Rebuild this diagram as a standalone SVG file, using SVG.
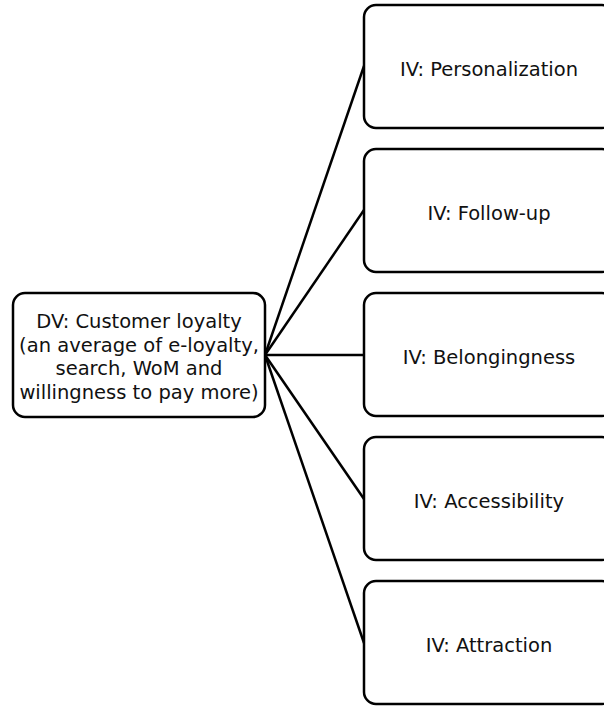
<svg xmlns="http://www.w3.org/2000/svg" width="604" height="706" viewBox="0 0 604 706">
<style>
.box{fill:#fff;stroke:#000;stroke-width:2.5}
.t{font-family:"DejaVu Sans",Lato,sans-serif;font-size:19.5px;fill:#111;text-anchor:middle}
.c{stroke:#000;stroke-width:2.5;fill:none}
</style>
<rect width="604" height="706" fill="#fff"/>
<g id="connectors">
<line class="c" x1="265" y1="355" x2="364" y2="66"/>
<line class="c" x1="265" y1="355" x2="364" y2="210"/>
<line class="c" x1="265" y1="355" x2="364" y2="355"/>
<line class="c" x1="265" y1="355" x2="364" y2="499"/>
<line class="c" x1="265" y1="355" x2="364" y2="643"/>
</g>
<g id="dv">
<rect class="box" x="13" y="293" width="252" height="124" rx="12"/>
<text class="t" x="139" y="328">DV: Customer loyalty</text>
<text class="t" x="139" y="351.5">(an average of e-loyalty,</text>
<text class="t" x="139" y="375">search, WoM and</text>
<text class="t" x="139" y="398.5">willingness to pay more)</text>
</g>
<g id="iv1">
<rect class="box" x="364" y="5" width="250" height="123" rx="12"/>
<text class="t" x="489" y="76">IV: Personalization</text>
</g>
<g id="iv2">
<rect class="box" x="364" y="149" width="250" height="123" rx="12"/>
<text class="t" x="489" y="220">IV: Follow-up</text>
</g>
<g id="iv3">
<rect class="box" x="364" y="293" width="250" height="123" rx="12"/>
<text class="t" x="489" y="364">IV: Belongingness</text>
</g>
<g id="iv4">
<rect class="box" x="364" y="437" width="250" height="123" rx="12"/>
<text class="t" x="489" y="508">IV: Accessibility</text>
</g>
<g id="iv5">
<rect class="box" x="364" y="581" width="250" height="123" rx="12"/>
<text class="t" x="489" y="652">IV: Attraction</text>
</g>
</svg>
